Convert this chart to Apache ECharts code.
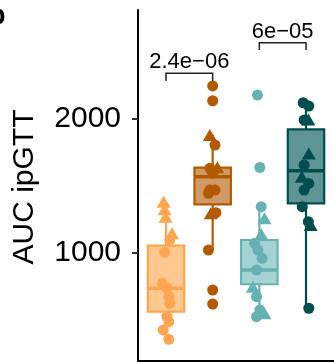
<!DOCTYPE html>
<html><head><meta charset="utf-8">
<script src="https://cdn.jsdelivr.net/npm/echarts@6/dist/echarts.min.js"></script>
<style>html,body{margin:0;padding:0;background:#fff}#c{width:334px;height:362px}</style>
</head><body><div id="c"></div>
<script>
// ---- data ----
const categories = ['G1', 'G2', 'G3', 'G4'];
const yTicks = [1000, 2000];
const yTickLabels = ['1000', '2000'];
// box stats: [lower whisker, Q1, median, Q3, upper whisker]
const box1 = [347, 554, 730, 1050, 1380];
const box2 = [1017, 1360, 1567, 1635, 1880];
const box3 = [517, 760, 867, 1092, 1342];
const box4 = [580, 1367, 1612, 1922, 2122];

const g1Values = [1380, 1323, 1267, 1143, 1092, 1000, 767, 730, 667, 617, 517, 479, 417, 347];
const g1Jitter = [-0.05, -0.03, -0.01, 0.13, 0.08, -0.03, -0.08, 0.02, 0.06, 0.08, 0.02, 0.06, -0.06, 0.06];
const g1Shape = ['t', 't', 't', 't', 'c', 'c', 'c', 'c', 'c', 'c', 'c', 'c', 'c', 'c'];

const g2Values = [2248, 2137, 1880, 1805, 1630, 1638, 1593, 1467, 1467, 1443, 1293, 1297, 1017, 717, 612];
const g2Jitter = [0, 0, -0.06, 0.05, -0.06, 0.1, 0, -0.06, 0.05, -0.09, -0.04, 0.07, -0.09, 0, 0];
const g2Shape = ['c', 'c', 't', 'c', 'c', 't', 'c', 'c', 'c', 'c', 't', 'c', 'c', 'c', 'c'];

const g3Values = [2180, 1637, 1342, 1255, 1137, 1067, 1017, 955, 867, 742, 667, 567, 542, 517];
const g3Jitter = [-0.04, 0.01, 0.04, 0.11, 0.04, -0.1, -0.03, 0.06, -0.06, -0.14, -0.06, 0.01, 0.11, -0.06];
const g3Shape = ['c', 'c', 'c', 't', 't', 'c', 'c', 'c', 'c', 't', 'c', 'c', 't', 'c'];

const g4Values = [2122, 2097, 1992, 1997, 1742, 1655, 1567, 1517, 1467, 1342, 1230, 1205, 580];
const g4Jitter = [-0.06, 0.06, -0.04, 0.05, 0.06, -0.04, -0.09, 0.06, -0.04, -0.08, 0.05, 0.1, 0.06];
const g4Shape = ['c', 'c', 'c', 't', 't', 'c', 't', 'c', 'c', 'c', 'c', 't', 'c'];

// significance brackets: [from group, to group, bar value, tick end value]
const brackets = [[1, 2, 2343, 2285], [3, 4, 2573, 2518]];
const pLabels = ['2.4e\u221206', '6e\u221205'];

// ---- styling ----
const lineColors = ['#FFA54F', '#B35A00', '#66B2B2', '#004D4D'];
const fillColors = ['#FFC891', '#D09A66', '#A5D2D2', '#5F9494'];
const FONT = '"Liberation Sans", Arial, Helvetica, sans-serif';

const boxes = [box1, box2, box3, box4];
const pts = [[g1Values, g1Jitter, g1Shape], [g2Values, g2Jitter, g2Shape], [g3Values, g3Jitter, g3Shape], [g4Values, g4Jitter, g4Shape]];

const boxData = boxes.map((b, i) => [i + 1].concat(b));
const halfW = 0.39;

const series = [{
  type: 'custom',
  clip: false,
  data: boxData,
  z: 2,
  renderItem: function (params, api) {
    const i = params.dataIndex;
    const x = api.value(0);
    const lo = api.value(1), q1 = api.value(2), med = api.value(3), q3 = api.value(4), hi = api.value(5);
    const pc = api.coord([x, hi]), pq3 = api.coord([x, q3]), pq1 = api.coord([x, q1]), plo = api.coord([x, lo]);
    const left = api.coord([x - halfW, q3])[0], right = api.coord([x + halfW, q3])[0];
    const pm = api.coord([x, med]);
    const lc = lineColors[i], fc = fillColors[i];
    return {
      type: 'group',
      children: [
        {type: 'line', shape: {x1: pc[0], y1: pc[1], x2: pq3[0], y2: pq3[1]}, style: {stroke: lc, lineWidth: 2.2}},
        {type: 'line', shape: {x1: pq1[0], y1: pq1[1], x2: plo[0], y2: plo[1]}, style: {stroke: lc, lineWidth: 2.2}},
        {type: 'rect', shape: {x: left, y: pq3[1], width: right - left, height: pq1[1] - pq3[1]}, style: {fill: fc, stroke: lc, lineWidth: 2.2}},
        {type: 'line', shape: {x1: left, y1: pm[1], x2: right, y2: pm[1]}, style: {stroke: lc, lineWidth: 3.6}}
      ]
    };
  }
}];

pts.forEach(function (g, i) {
  const data = g[0].map((v, k) => [i + 1 + g[1][k], v, g[2][k]]);
  series.push({
    type: 'scatter',
    z: 3,
    data: data,
    symbol: function (val) { return val[2] === 't' ? 'triangle' : 'circle'; },
    symbolSize: function (val) { return val[2] === 't' ? [14, 12] : 11; },
    itemStyle: {color: lineColors[i], opacity: 1},
    emphasis: {disabled: true},
    silent: true
  });
});

series.push({
  type: 'custom',
  clip: false,
  z: 4,
  data: brackets,
  renderItem: function (params, api) {
    const a = api.coord([api.value(0), api.value(2)]);
    const b = api.coord([api.value(1), api.value(2)]);
    const at = api.coord([api.value(0), api.value(3)]);
    const bt = api.coord([api.value(1), api.value(3)]);
    return {
      type: 'group',
      children: [
        {type: 'polyline', shape: {points: [[at[0], at[1]], [a[0], a[1]], [b[0], b[1]], [bt[0], bt[1]]]}, style: {stroke: '#222', lineWidth: 1.5, fill: null}},
        {type: 'text', style: {text: pLabels[params.dataIndex], x: (a[0] + b[0]) / 2, y: a[1] - 11, align: 'center', verticalAlign: 'middle', fontSize: 22, fontFamily: FONT, fill: '#000'}}
      ]
    };
  }
});

const chart = echarts.init(document.getElementById('c'), null, {renderer: 'canvas'});
chart.setOption({
  animation: false,
  backgroundColor: '#fff',
  grid: {left: 138, right: -0.5, top: 10, bottom: 1.5, containLabel: false},
  xAxis: {
    type: 'value', min: 0.4, max: 4.6,
    axisLine: {show: true, onZero: false, lineStyle: {color: '#000', width: 2}},
    axisTick: {show: false}, axisLabel: {show: false}, splitLine: {show: false}
  },
  yAxis: {
    type: 'value', min: 188, max: 2818,
    axisLine: {show: true, lineStyle: {color: '#000', width: 2}},
    axisTick: {show: true, customValues: yTicks, length: 6, lineStyle: {color: '#333', width: 2}},
    axisLabel: {
      show: true, customValues: yTicks, fontSize: 30, color: '#000', margin: 17, fontFamily: FONT,
      formatter: function (v) { const k = yTicks.indexOf(v); return k >= 0 ? yTickLabels[k] : String(v); }
    },
    splitLine: {show: false}
  },
  graphic: [
    {type: 'text', x: 25, y: 187, rotation: Math.PI / 2, style: {text: 'AUC ipGTT', align: 'center', verticalAlign: 'middle', fontSize: 30, fontFamily: FONT, fill: '#000'}},
    {type: 'text', x: -11, y: 3, style: {text: 'b', fontSize: 27, fontWeight: 'bold', fontFamily: FONT, fill: '#000'}}
  ],
  series: series
});
</script>
</body></html>
